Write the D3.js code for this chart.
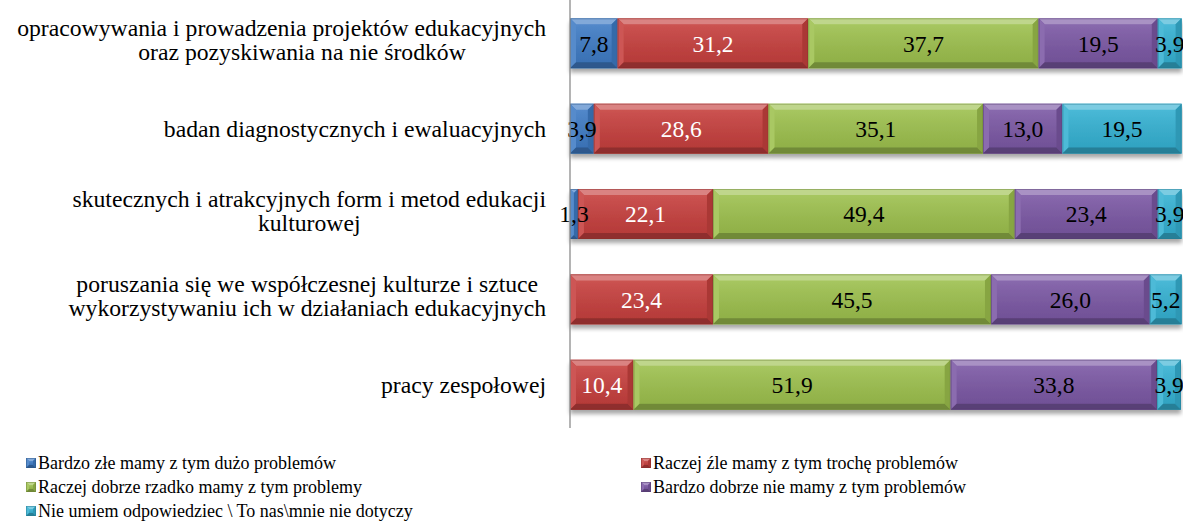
<!DOCTYPE html>
<html>
<head>
<meta charset="utf-8">
<script src="https://cdn.jsdelivr.net/npm/d3@7"></script>
<style>
  html, body { margin: 0; padding: 0; background: #fff; }
  svg { display: block; }
</style>
</head>
<body>
<svg id="chart" width="1183" height="523" font-family="'Liberation Serif', 'Times New Roman', Times, serif"></svg>
<script>
// Categories (top to bottom); "\n" marks a line break in the axis label
const categories = [
  "opracowywania i prowadzenia projektów edukacyjnych\noraz pozyskiwania na nie środków",
  "badan diagnostycznych i ewaluacyjnych",
  "skutecznych i atrakcyjnych form i metod edukacji\nkulturowej",
  "poruszania się we współczesnej kulturze i sztuce\nwykorzystywaniu ich w działaniach edukacyjnych",
  "pracy zespołowej"
];

const seriesNames = [
  "Bardzo złe mamy z tym dużo problemów",
  "Raczej źle mamy z tym trochę problemów",
  "Raczej dobrze rzadko mamy z tym problemy",
  "Bardzo dobrze nie mamy z tym problemów",
  "Nie umiem odpowiedziec \\ To nas\\mnie nie dotyczy"
];

// Percentages per series, one value per category (null = no answer in that group)
const bardzoZle     = [7.8, 3.9, 1.3, null, null];
const raczejZle     = [31.2, 28.6, 22.1, 23.4, 10.4];
const raczejDobrze  = [37.7, 35.1, 49.4, 45.5, 51.9];
const bardzoDobrze  = [19.5, 13.0, 23.4, 26.0, 33.8];
const nieWiem       = [3.9, 19.5, 3.9, 5.2, 3.9];

const seriesValues = [bardzoZle, raczejZle, raczejDobrze, bardzoDobrze, nieWiem];
const colors = ["#3f7bc4", "#c6403e", "#9dc04e", "#7b58a4", "#35b1d2"];
const labelColors = ["#000", "#fff", "#000", "#000", "#000"];

const svg = d3.select("#chart");
const plot = { left: 570, right: 1181, top: 0, bottom: 428 };

const x = d3.scaleLinear().domain([0, 100]).range([plot.left, plot.right]);
const y = d3.scaleBand().domain(d3.range(categories.length))
  .range([plot.top, plot.bottom]).paddingInner(0.415).paddingOuter(0.215);

const defs = svg.append("defs");
const shadow = defs.append("filter").attr("id", "shadow")
  .attr("x", "-5%").attr("y", "-20%").attr("width", "110%").attr("height", "160%");
shadow.append("feGaussianBlur").attr("in", "SourceAlpha").attr("stdDeviation", 2.2);
shadow.append("feOffset").attr("dx", 0).attr("dy", 3.5).attr("result", "blur");
shadow.append("feComponentTransfer").append("feFuncA").attr("type", "linear").attr("slope", 0.35);
const merge = shadow.append("feMerge");
merge.append("feMergeNode");
merge.append("feMergeNode").attr("in", "SourceGraphic");

const face = defs.append("linearGradient").attr("id", "face").attr("x1", 0).attr("y1", 0).attr("x2", 0).attr("y2", 1);
face.append("stop").attr("offset", "0%").attr("stop-color", "#fff").attr("stop-opacity", 0.1);
face.append("stop").attr("offset", "100%").attr("stop-color", "#000").attr("stop-opacity", 0.08);

const mix = (c, t, k) => d3.interpolateRgb(c, t)(k);

// Draw a bevelled rectangle (flat face with lighter top/left edges and darker bottom/right edges)
function bevelRect(g, x0, y0, w, h, color, b) {
  const bb = Math.min(b, w / 2, h / 2);
  const x1 = x0 + w, y1 = y0 + h;
  g.append("rect").attr("x", x0).attr("y", y0).attr("width", w).attr("height", h).attr("fill", color);
  const poly = (pts, fill) => g.append("polygon").attr("points", pts.map(p => p.join(",")).join(" ")).attr("fill", fill);
  poly([[x0, y0], [x1, y0], [x1 - bb, y0 + bb], [x0 + bb, y0 + bb]], mix(color, "#fff", 0.35));
  poly([[x0, y0], [x0 + bb, y0 + bb], [x0 + bb, y1 - bb], [x0, y1]], mix(color, "#fff", 0.12));
  poly([[x1, y0], [x1, y1], [x1 - bb, y1 - bb], [x1 - bb, y0 + bb]], mix(color, "#000", 0.14));
  poly([[x0, y1], [x0 + bb, y1 - bb], [x1 - bb, y1 - bb], [x1, y1]], mix(color, "#000", 0.28));
  g.append("rect").attr("x", x0 + bb).attr("y", y0 + bb).attr("width", Math.max(0, w - 2 * bb))
    .attr("height", Math.max(0, h - 2 * bb)).attr("fill", "url(#face)");
  g.append("rect").attr("x", x0 + 0.5).attr("y", y0 + 0.5).attr("width", Math.max(0, w - 1)).attr("height", h - 1)
    .attr("fill", "none").attr("stroke", mix(color, "#000", 0.3)).attr("stroke-width", 0.8).attr("stroke-opacity", 0.6);
}

// Stack the series
const rows = categories.map((c, i) => {
  let acc = 0;
  return seriesValues.map((vals, s) => {
    const v = vals[i];
    const seg = { s, v, x0: acc, x1: acc + (v || 0) };
    acc += v || 0;
    return seg;
  });
});

const barsG = svg.append("g");
rows.forEach((segs, i) => {
  const row = barsG.append("g").attr("filter", "url(#shadow)");
  segs.filter(d => d.v != null).forEach(d => {
    bevelRect(row.append("g"), x(d.x0), y(i), x(d.x1) - x(d.x0), y.bandwidth(), colors[d.s], 6);
  });
});

// Value labels
rows.forEach((segs, i) => {
  segs.filter(d => d.v != null).forEach(d => {
    svg.append("text")
      .attr("x", (x(d.x0) + x(d.x1)) / 2)
      .attr("y", y(i) + y.bandwidth() / 2)
      .attr("dy", "0.35em")
      .attr("text-anchor", "middle")
      .attr("font-size", 23.5)
      .attr("fill", labelColors[d.s])
      .text(d3.format(".1f")(d.v).replace(".", ","));
  });
});

// Vertical category axis line
svg.append("line")
  .attr("x1", plot.left).attr("x2", plot.left)
  .attr("y1", plot.top).attr("y2", plot.bottom)
  .attr("stroke", "#8c8c8c").attr("stroke-width", 1.3);

// Category labels: right-aligned text box (max width capped), lines centred in it,
// with any line wider than the box kept flush with the right edge
const labelRight = 546;
const labelMaxW = 488;
const lineH = 24;
categories.forEach((c, i) => {
  const lines = c.split("\n");
  const t = svg.append("text").attr("font-size", 23.7).attr("fill", "#000").attr("text-anchor", "middle");
  const cy = y(i) + y.bandwidth() / 2;
  const shift = lines.length > 1 ? -3.3 : 0;
  const spans = lines.map((ln, k) =>
    t.append("tspan").attr("y", cy + (k - (lines.length - 1) / 2) * lineH + shift).attr("dy", "0.35em").text(ln));
  const widths = spans.map(s => s.node().getComputedTextLength());
  const boxW = Math.min(d3.max(widths), labelMaxW);
  const cx = labelRight - boxW / 2;
  spans.forEach((s, k) => s.attr("x", Math.min(cx, labelRight - widths[k] / 2)));
});

// Legend (two columns, filled row by row)
const legendPos = [[26, 463], [641, 463], [26, 487], [641, 487], [26, 511]];
seriesNames.forEach((name, s) => {
  const [lx, ly] = legendPos[s];
  bevelRect(svg.append("g"), lx, ly - 5, 10, 10, colors[s], 3);
  svg.append("text").attr("x", lx + 12).attr("y", ly).attr("dy", "0.35em")
    .attr("font-size", 18).attr("fill", "#000").text(name);
});
</script>
</body>
</html>
